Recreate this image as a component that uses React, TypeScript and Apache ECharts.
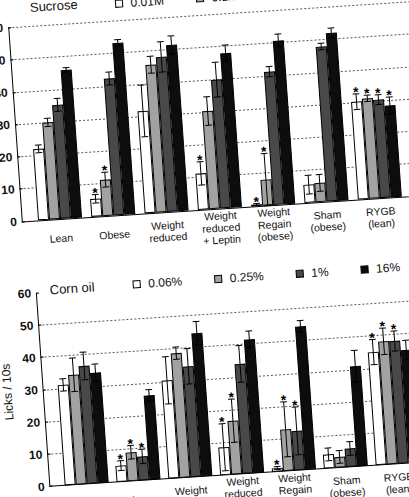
import React, { useEffect, useRef } from "react";
import * as echarts from "echarts";

// Groups along the x axis
const groups = [
  "Lean",
  "Obese",
  "Weight\nreduced",
  "Weight\nreduced\n+ Leptin",
  "Weight\nRegain\n(obese)",
  "Sham\n(obese)",
  "RYGB\n(lean)",
];
const groupIndex = [0, 1, 2, 3, 4, 5, 6];

// Sucrose panel: mean licks / 10 s, SEM and significance flags
const sucroseLevels = ["0.01M", "0.1M", "0.3M", "1M"];
const sucA = [22, 5.5, 31.6, 11.2, 0.5, 5.6, 30.2];
const sucAErr = [1.2, 1.3, 8, 3.6, 0.3, 2.9, 2.4];
const sucAStar = [0, 1, 0, 1, 1, 0, 1];
const sucB = [30, 11.2, 45.7, 30.3, 8.0, 5.9, 31.0];
const sucBErr = [1.3, 2.3, 2.6, 4.4, 8.1, 2.6, 1.0];
const sucBStar = [0, 1, 0, 0, 1, 0, 1];
const sucC = [35.2, 42.3, 47.9, 39.8, 41.2, 47.9, 30.4];
const sucCErr = [2, 2, 4.7, 5.4, 1.6, 1, 1.5];
const sucCStar = [0, 0, 0, 0, 0, 0, 1];
const sucD = [45.8, 53.1, 51.4, 47.8, 50.6, 51.9, 28.4];
const sucDErr = [0.7, 1, 2.8, 2.5, 2, 1.5, 2.6];
const sucDStar = [0, 0, 0, 0, 0, 0, 1];

// Corn oil panel
const oilLevels = ["0.06%", "0.25%", "1%", "16%"];
const oilA = [31.1, 5.0, 30.4, 8.6, 1.1, 4.3, 35.0];
const oilAErr = [1.9, 1.5, 7.3, 7.3, 0.5, 2, 3.9];
const oilAStar = [0, 1, 0, 1, 1, 0, 1];
const oilB = [34.0, 8.9, 38.6, 16.6, 12.9, 3.3, 38.1];
const oilBErr = [5.2, 2.1, 1.9, 6.7, 8.5, 2, 4.1];
const oilBStar = [0, 1, 0, 1, 1, 0, 1];
const oilC = [36.5, 7.4, 34.3, 34.0, 12.2, 5.7, 38.0];
const oilCErr = [4.3, 2.2, 5.5, 5.7, 7.4, 2.1, 3.1];
const oilCStar = [0, 1, 0, 0, 1, 0, 1];
const oilD = [34.2, 26.1, 44.4, 41.4, 44.4, 31.0, 35];
const oilDErr = [2.7, 1.8, 3.6, 2.6, 1.8, 4.9, 3];
const oilDStar = [0, 0, 0, 0, 0, 0, 0];

const yTicks = [0, 10, 20, 30, 40, 50, 60];

const fills = ["#ffffff", "#a2a2a2", "#494949", "#0d0d0d"];
const FONT = "'Liberation Sans', Arial, Helvetica, sans-serif";
const BAR_W = 11;

type Panel = {
  levels: string[];
  means: number[][];
  errs: number[][];
  stars: number[][];
};

const panels: Panel[] = [
  {
    levels: sucroseLevels,
    means: [sucA, sucB, sucC, sucD],
    errs: [sucAErr, sucBErr, sucCErr, sucDErr],
    stars: [sucAStar, sucBStar, sucCStar, sucDStar],
  },
  {
    levels: oilLevels,
    means: [oilA, oilB, oilC, oilD],
    errs: [oilAErr, oilBErr, oilCErr, oilDErr],
    stars: [oilAStar, oilBStar, oilCStar, oilDStar],
  },
];

function barSeries(p: Panel, axis: number) {
  return p.levels.map((name, k) => ({
    type: "bar",
    name,
    xAxisIndex: axis,
    yAxisIndex: axis,
    barWidth: BAR_W,
    barGap: "0%",
    data: groupIndex.map((g) => [g, p.means[k][g]]),
    itemStyle: { color: fills[k], borderColor: "#000", borderWidth: 1 },
    z: 2,
  }));
}

// SEM whiskers (capped at both ends) plus the significance asterisk
function errorSeries(p: Panel, axis: number) {
  return p.levels.map((name, k) => ({
    type: "custom",
    name: name + " sem",
    xAxisIndex: axis,
    yAxisIndex: axis,
    silent: true,
    z: 5,
    encode: { x: 0, y: 1 },
    data: groupIndex.map((g) => [g, p.means[k][g], p.errs[k][g], p.stars[k][g]]),
    renderItem: (_params: any, api: any) => {
      const x = api.value(0);
      const m = api.value(1);
      const e = api.value(2);
      const s = api.value(3);
      const top = api.coord([x, m + e]);
      const bot = api.coord([x, Math.max(0, m - e)]);
      const cx = top[0] + (k - 1.5) * BAR_W;
      const cap = 3.4;
      const st = { stroke: "#000", lineWidth: 1 };
      const children: any[] = [
        { type: "line", shape: { x1: cx, y1: top[1], x2: cx, y2: bot[1] }, style: st },
        { type: "line", shape: { x1: cx - cap, y1: top[1], x2: cx + cap, y2: top[1] }, style: st },
        { type: "line", shape: { x1: cx - cap, y1: bot[1], x2: cx + cap, y2: bot[1] }, style: st },
      ];
      if (s) {
        children.push({
          type: "text",
          x: cx,
          y: top[1] - 2,
          style: {
            text: "*",
            fill: "#000",
            fontSize: 14,
            fontWeight: "bold",
            fontFamily: FONT,
            align: "center",
            verticalAlign: "middle",
          },
        });
      }
      return { type: "group", children };
    },
  }));
}

function xAxis(grid: number, min: number, max: number) {
  return {
    type: "value",
    gridIndex: grid,
    min,
    max,
    axisLine: { show: true, onZero: false, lineStyle: { color: "#000", width: 1 } },
    axisTick: { show: false },
    splitLine: { show: false },
    axisLabel: {
      customValues: groupIndex,
      formatter: (v: number) => groups[Math.round(v)] ?? "",
      fontSize: 10.5,
      lineHeight: 12,
      color: "#111",
      fontFamily: FONT,
      margin: 19,
      align: "center",
      verticalAlign: "middle",
    },
  };
}

function yAxis(grid: number, showMax: boolean, name: string) {
  return {
    type: "value",
    gridIndex: grid,
    min: yTicks[0],
    max: yTicks[yTicks.length - 1],
    interval: 10,
    name,
    nameLocation: "middle",
    nameGap: 22,
    nameTextStyle: { fontSize: 12, color: "#111", fontFamily: FONT },
    axisLine: { show: true, onZero: false, lineStyle: { color: "#000", width: 1 } },
    axisTick: { show: true, inside: true, length: 3, lineStyle: { color: "#000" } },
    axisLabel: {
      fontSize: 12,
      fontWeight: "bold",
      color: "#111",
      fontFamily: FONT,
      margin: 5,
    },
    splitLine: {
      show: true,
      showMinLine: false,
      showMaxLine: showMax,
      lineStyle: { type: [2, 2], color: "#4a4a4a", width: 0.9 },
    },
  };
}

function legend(p: Panel, left: number, top: number) {
  return {
    data: p.levels,
    left,
    top,
    padding: 0,
    icon: "rect",
    itemWidth: 7,
    itemHeight: 7,
    itemGap: 32,
    selectedMode: false,
    itemStyle: { borderColor: "#000", borderWidth: 1 },
    textStyle: { fontSize: 12, color: "#111", fontFamily: FONT, padding: [0, 0, 0, 3] },
  };
}

export default function App() {
  const ref = useRef<HTMLDivElement>(null);

  useEffect(() => {
    if (!ref.current) return;
    const chart = echarts.init(ref.current, undefined, { renderer: "svg" });
    chart.setOption({
      animation: false,
      backgroundColor: "#fff",
      title: [
        {
          text: "Sucrose",
          left: 63,
          top: 21,
          padding: 0,
          textStyle: { fontSize: 13, fontWeight: "normal", color: "#111", fontFamily: FONT },
        },
        {
          text: "Corn oil",
          left: 63,
          top: 303.5,
          padding: 0,
          textStyle: { fontSize: 13, fontWeight: "normal", color: "#111", fontFamily: FONT },
        },
      ],
      legend: [legend(panels[0], 148, 23.5), legend(panels[1], 146, 304)],
      grid: [
        { left: 40, top: 46.2, width: 405, height: 193.8 },
        { left: 38, top: 312.2, width: 407, height: 193.4 },
      ],
      xAxis: [xAxis(0, -0.717, 6.881), xAxis(1, -0.715, 6.921)],
      yAxis: [yAxis(0, true, ""), yAxis(1, false, "Licks / 10s")],
      series: [
        ...barSeries(panels[0], 0),
        ...errorSeries(panels[0], 0),
        ...barSeries(panels[1], 1),
        ...errorSeries(panels[1], 1),
      ],
    });
    return () => chart.dispose();
  }, []);

  return (
    <div
      style={{
        position: "fixed",
        left: 0,
        top: 0,
        width: 409,
        height: 497,
        overflow: "hidden",
        background: "#fff",
      }}
    >
      <div
        ref={ref}
        style={{
          position: "absolute",
          left: -35.1,
          top: -16.4,
          width: 460,
          height: 550,
          transformOrigin: "0 0",
          transform: "matrix(1, -0.065, 0.07, 1, 0, 0)",
        }}
      />
    </div>
  );
}
